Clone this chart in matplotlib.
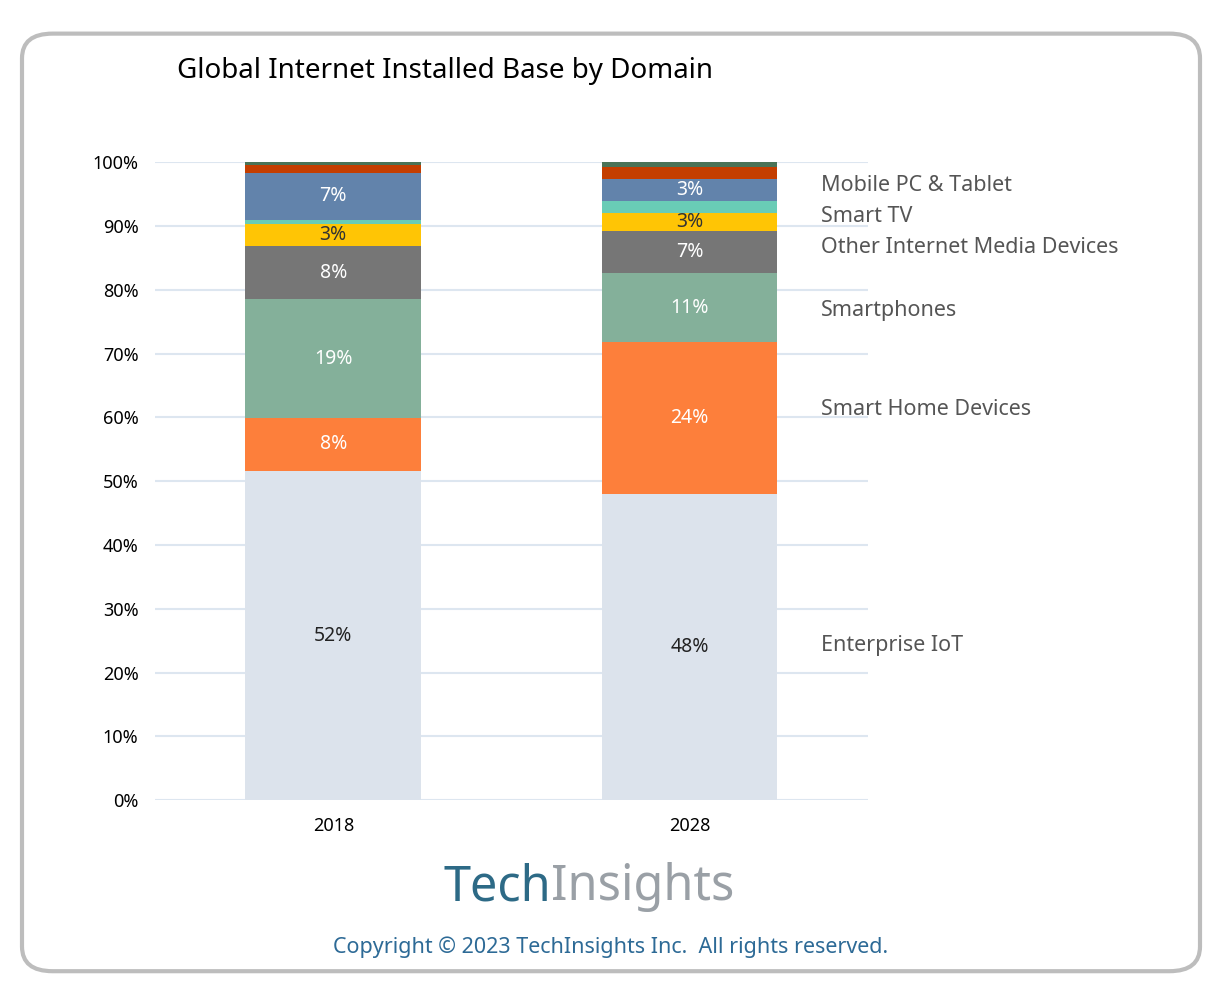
import matplotlib
matplotlib.use("Agg")
import matplotlib.pyplot as plt
from matplotlib.patches import FancyBboxPatch
import numpy as np

years = ["2018", "2028"]
segments = ["Enterprise IoT", "Smart Home Devices", "Smartphones", "Other Internet Media Devices",
            "Smart TV", "Other A", "Mobile PC & Tablet", "Other B", "Other C"]
v2018 = [51.6, 8.3, 18.6, 8.3, 3.5, 0.7, 7.3, 1.2, 0.5]
v2028 = [48.0, 23.8, 10.8, 6.6, 2.8, 1.9, 3.4, 1.9, 0.8]
labels2018 = ["52%", "8%", "19%", "8%", "3%", "", "7%", "", ""]
labels2028 = ["48%", "24%", "11%", "7%", "3%", "", "3%", "", ""]
colors = ["#dce3ec", "#fd7f3b", "#84b09a", "#767676", "#ffc505", "#69ccb6", "#6283ab", "#c43e00", "#4a7357"]
label_colors = ["#222222", "white", "white", "white", "#333333", "white", "white", "white", "white"]
legend_names = ["Enterprise IoT", "Smart Home Devices", "Smartphones", "Other Internet Media Devices",
                "Smart TV", "Mobile PC & Tablet"]
legend_y = [24.3, 61.2, 76.8, 86.7, 91.5, 96.3]

plt.rcParams["font.family"] = "Noto Sans"
fig = plt.figure(figsize=(12.22, 9.89), dpi=100)
fig.patches.append(FancyBboxPatch((0.018, 0.018), 0.964, 0.948, boxstyle="round,pad=0,rounding_size=0.025",
                                  transform=fig.transFigure, fill=False, ec="#bdbdbd", lw=3))
ax = fig.add_axes([0.127, 0.191, 0.583, 0.645])
data = np.array([v2018, v2028])
lbls = [labels2018, labels2028]
x = np.arange(len(years))
bottom = np.zeros(2)
for i, seg in enumerate(segments):
    ax.bar(x, data[:, i], bottom=bottom, width=0.494, color=colors[i], zorder=2)
    for j in range(2):
        if lbls[j][i]:
            ax.text(x[j], bottom[j] + data[j, i] / 2, lbls[j][i], ha="center", va="center",
                    color=label_colors[i], fontsize=14, zorder=3)
    bottom += data[:, i]
ax.set_xlim(-0.5, 1.5)
ax.set_ylim(0, 100)
ax.set_yticks(range(0, 101, 10))
ax.set_yticklabels([f"{t}%" for t in range(0, 101, 10)], fontsize=13)
ax.set_xticks(x)
ax.set_xticklabels(years, fontsize=13)
ax.grid(axis="y", color="#dde6f0", lw=1.5, zorder=0)
ax.set_axisbelow(True)
for s in ax.spines.values():
    s.set_visible(False)
ax.tick_params(length=0, pad=12)
for name, yv in zip(legend_names, legend_y):
    ax.text(1.37, yv, name, transform=ax.transData, ha="left", va="center", fontsize=15.5,
            color="#555555", clip_on=False)
fig.text(0.145, 0.928, "Global Internet Installed Base by Domain", fontsize=20, fontweight="bold",
         ha="left", va="center")
t1 = fig.text(0.363, 0.103, "Tech", fontsize=35, fontweight="bold", color="#2d6a86", ha="left", va="center")
fig.canvas.draw()
bb = t1.get_window_extent()
fig.text(bb.x1 / fig.bbox.width, 0.103, "Insights", fontsize=35, fontweight="bold", color="#9aa0a6",
         ha="left", va="center")
fig.text(0.5, 0.042, "Copyright © 2023 TechInsights Inc.  All rights reserved.", fontsize=15.5,
         color="#2d6a96", ha="center", va="center")
fig.savefig("out.png", dpi=100)
